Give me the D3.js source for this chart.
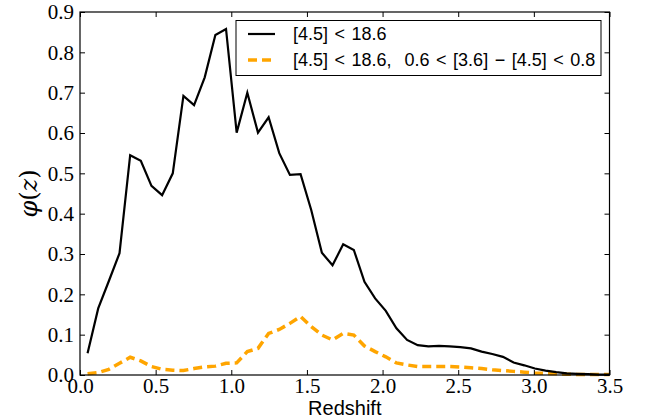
<!DOCTYPE html>
<html><head><meta charset="utf-8">
<script src="https://cdn.jsdelivr.net/npm/d3@7"></script>
<style>body{margin:0;background:#fff}svg{display:block}</style>
</head><body>
<script>
const zStart = 0.05, zStep = 0.0704;
const allSample = [0.054,0.165,0.233,0.302,0.545,0.531,0.469,0.446,0.500,0.692,
  0.669,0.738,0.843,0.858,0.601,0.700,0.601,0.639,0.550,0.496,
  0.498,0.409,0.303,0.272,0.324,0.310,0.231,0.190,0.159,0.116,
  0.087,0.074,0.071,0.072,0.071,0.069,0.066,0.058,0.052,0.045,
  0.031,0.024,0.016,0.011,0.007,0.004,0.003,0.002,0.001,0.001];
const colorCut = [0.003,0.006,0.014,0.029,0.044,0.035,0.021,0.014,0.012,0.011,
  0.016,0.020,0.022,0.029,0.030,0.058,0.066,0.103,0.113,0.128,
  0.145,0.120,0.099,0.087,0.103,0.099,0.072,0.058,0.045,0.030,
  0.025,0.021,0.021,0.021,0.021,0.020,0.018,0.016,0.013,0.011,
  0.009,0.007,0.005,0.004,0.003,0.002,0.001,0.001,0.001,0.001];
const redshift = allSample.map((_, i) => zStart + i * zStep);
const xTicks = [0.0,0.5,1.0,1.5,2.0,2.5,3.0,3.5];
const yTicks = [0.0,0.1,0.2,0.3,0.4,0.5,0.6,0.7,0.8,0.9];
const legendLabels = ["[4.5] < 18.6", "[4.5] < 18.6,  0.6 < [3.6] \u2212 [4.5] < 0.8"];

const W = 648, H = 420;
const m = {l: 80, r: 38.5, t: 12, b: 45};
const svg = d3.select("body").append("svg").attr("width", W).attr("height", H);
const x = d3.scaleLinear().domain([0, 3.5]).range([m.l, W - m.r]);
const y = d3.scaleLinear().domain([0, 0.9]).range([H - m.b, m.t]);
const serif = "Liberation Serif";
const labelSerif = "DejaVu Serif";
const sans = "Liberation Sans";

const line = d3.line().x((d, i) => x(redshift[i])).y(d => y(d));
svg.append("path").datum(colorCut).attr("d", line).attr("fill", "none")
  .attr("stroke", "#ffa500").attr("stroke-width", 3.5).attr("stroke-dasharray", "9,5");
svg.append("path").datum(allSample).attr("d", line).attr("fill", "none")
  .attr("stroke", "#000").attr("stroke-width", 2.2).attr("stroke-linejoin", "miter");

function styleAxis(g) {
  g.select(".domain").remove();
  g.attr("font-family", serif).attr("font-size", 21);
  g.selectAll(".tick line").attr("stroke", "#000").attr("stroke-width", 1);
  g.selectAll("text").attr("font-family", serif).attr("fill", "#000");
}
const fmt = d3.format(".1f");
svg.append("g").attr("transform", `translate(0,${y(0)})`)
  .call(d3.axisBottom(x).tickValues(xTicks).tickFormat(fmt).tickSizeInner(-5).tickPadding(3))
  .call(styleAxis);
svg.append("g").attr("transform", `translate(0,${y(0.9)})`)
  .call(d3.axisTop(x).tickValues(xTicks).tickFormat("").tickSizeInner(-5)).call(styleAxis);
svg.append("g").attr("transform", `translate(${x(0)},0)`)
  .call(d3.axisLeft(y).tickValues(yTicks).tickFormat(fmt).tickSizeInner(-5).tickPadding(6))
  .call(styleAxis);
svg.append("g").attr("transform", `translate(${x(3.5)},0)`)
  .call(d3.axisRight(y).tickValues(yTicks).tickFormat("").tickSizeInner(-5)).call(styleAxis);

svg.append("rect").attr("x", x(0)).attr("y", y(0.9)).attr("width", x(3.5) - x(0))
  .attr("height", y(0) - y(0.9)).attr("fill", "none").attr("stroke", "#000").attr("stroke-width", 1.2);

svg.append("text").attr("x", (x(0) + x(3.5)) / 2).attr("y", 415).attr("text-anchor", "middle")
  .attr("font-family", sans).attr("font-size", 20).text("Redshift");
const yl = svg.append("text").attr("transform", `translate(37,${(y(0)+y(0.9))/2}) rotate(-90)`)
  .attr("text-anchor", "middle").attr("font-family", labelSerif).attr("font-size", 24);
yl.append("tspan").attr("font-style", "italic").text("\u03c6");
yl.append("tspan").text("(");
yl.append("tspan").attr("font-style", "italic").text("z");
yl.append("tspan").text(")");

const lg = svg.append("g");
lg.append("rect").attr("x", 236).attr("y", 20.5).attr("width", 365).attr("height", 55)
  .attr("fill", "#fff").attr("stroke", "#000").attr("stroke-width", 1);
const styles = [{c: "#000", w: 2.2, d: null}, {c: "#ffa500", w: 3.5, d: "9,5"}];
legendLabels.forEach((t, i) => {
  const yy = 34 + i * 26;
  lg.append("line").attr("x1", 248).attr("x2", 275).attr("y1", yy).attr("y2", yy)
    .attr("stroke", styles[i].c).attr("stroke-width", styles[i].w).attr("stroke-dasharray", styles[i].d);
  lg.append("text").attr("x", 293).attr("y", yy + 6).style("white-space", "pre")
    .attr("font-family", sans).attr("font-size", 18).style("word-spacing", "1.5px").text(t);
});
</script>
</body></html>
